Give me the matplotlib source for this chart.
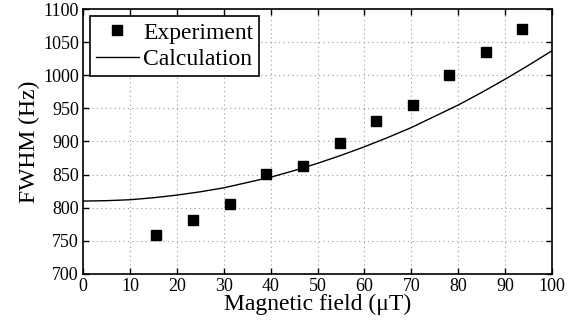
import matplotlib
matplotlib.use("Agg")
import matplotlib.pyplot as plt

# measured widths
field_exp = [15.6, 23.5, 31.3, 39.1, 46.9, 54.7, 62.5, 70.3, 78.1, 85.9, 93.7]
fwhm_exp = [759, 782, 805, 851, 863, 898, 931, 955, 1001, 1035, 1070]

# calculated curve
field_calc = [0, 5, 10, 15, 20, 25, 30, 35, 40, 45, 50,
              55, 60, 65, 70, 75, 80, 85, 90, 95, 100]
fwhm_calc = [810, 810.6, 812, 815, 819, 824, 830, 838, 846, 856, 867,
             879, 892, 906, 921, 938, 955, 974, 994, 1015, 1037]

plt.rcParams['font.family'] = ['Liberation Serif', 'DejaVu Serif']

fig = plt.figure(figsize=(5.81, 3.23), dpi=100)
ax = fig.add_axes([0.143, 0.152, 0.807, 0.820])

ax.plot(field_exp, fwhm_exp, 's', color='black', markersize=7, label='Experiment')
ax.plot(field_calc, fwhm_calc, '-', color='black', lw=1.0, label='Calculation')

ax.set_xlim(0, 100)
ax.set_ylim(700, 1100)
ax.set_xticks(range(0, 101, 10))
ax.set_yticks(range(700, 1101, 50))
ax.grid(True, linestyle=(0, (1, 3)), color='#999999', linewidth=0.8)
ax.tick_params(direction='in', top=True, right=True, labelsize=13, length=4, width=1.0, pad=3)
for s in ax.spines.values():
    s.set_linewidth(1.2)

ax.set_xlabel('Magnetic field (μT)', fontsize=17, labelpad=-1)
ax.set_ylabel('FWHM (Hz)', fontsize=17, labelpad=2)

leg = ax.legend(loc='upper left', fontsize=17, fancybox=False, framealpha=1,
                edgecolor='black', borderpad=0.25, handlelength=1.8,
                handletextpad=0.2, labelspacing=0.2, borderaxespad=0.3)
leg.get_frame().set_linewidth(1.2)

fig.savefig('out.png', dpi=100)
